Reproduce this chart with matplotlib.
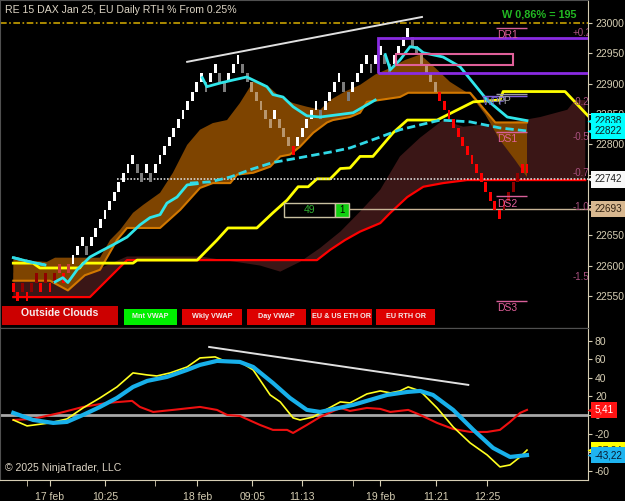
import matplotlib
matplotlib.use("Agg")
import matplotlib.pyplot as plt
import matplotlib.transforms as mtransforms
from matplotlib.patches import Rectangle

plt.rcParams['font.family'] = ['Liberation Sans', 'DejaVu Sans']
plt.rcParams['axes.unicode_minus'] = False

# ---------------- data ----------------
BOX = 15
BASE = 22542
brick_level = [1, 0, 1, 0, 1, 2, 1, 2, 1, 2, 3, 2, 3,
               4, 5, 6, 5, 6, 7, 8, 9, 10, 11, 12, 13, 14, 15, 14, 13, 14, 13, 14, 15, 16, 17, 18, 19, 20, 21, 22, 23, 24,
               23, 24, 25, 24, 23, 24, 25, 26, 25, 24, 23, 22, 21, 20, 19, 20, 19, 18, 17, 16,
               17, 18, 19, 20, 21, 20, 21, 22, 23, 24, 23, 22, 23, 24, 25, 26, 25, 26, 27, 26, 25, 26, 27, 28, 29, 28, 27, 26, 25, 24, 23,
               22, 21, 20, 19, 18, 17, 16, 15, 14, 13, 12, 11, 10, 9, 10, 11, 12, 13, 14, 14]
brick_kind = ("rrdrddrdrdlrl"
              "wwwgwwwwwwwwwwggwgwwwwwwwwwww"
              "gwwggwwwggtttttwtttr"
              "wwwwwgwwwwggwwwwgwwggwwwwggtttt"
              "rrrrrrrrrrrrrrddddrr")

# orange cloud (fast edge / stepped edge)
a1_x = [0, 7.3, 9.1, 18.9, 21.1, 23.3, 26.1, 28.3, 32, 34.8, 37.9, 40.7, 43.5, 46.6, 49.4, 52.3, 54.2, 56, 58.2, 61,
        64, 66.9, 69.1, 72.3, 75.6, 78.9, 82.2, 85.4, 88.7, 92, 95.2, 99.6, 102.9, 106.1, 109.4, 112]
a1_y = [22610, 22606, 22613, 22613, 22642, 22659, 22687, 22700, 22720, 22753, 22799, 22824, 22835, 22840, 22868, 22903,
        22901, 22893, 22878, 22868, 22862, 22857, 22873, 22887, 22898, 22915, 22926, 22939, 22948, 22926, 22903, 22882,
        22849, 22807, 22774, 22746]
a2_x = [0, 8, 11.9, 15.6, 18.9, 22.6, 24.8, 32, 36.4, 40.7, 43.5, 47.3, 48.8, 52.3, 56, 58.2, 60.3, 62.5, 65.4, 68.4,
        69.7, 73.4, 75.6, 77.1, 84.3, 86.1, 99.6, 105.1, 112]
a2_y = [22575, 22575, 22559, 22584, 22593, 22642, 22662, 22662, 22692, 22728, 22736, 22736, 22750, 22753, 22763, 22780,
        22783, 22796, 22819, 22836, 22840, 22845, 22852, 22870, 22878, 22885, 22885, 22836, 22836]

# dark red cloud
b1_x = [0, 16.7, 24.8, 40.7, 53.8, 58.2, 62.5, 66.9, 71.3, 75.6, 80, 84.3, 88.7, 93.7, 98.1, 101.8, 109, 114.9, 120.8,
        122.5, 124.7]
b1_y = [22588, 22588, 22615, 22615, 22600, 22590, 22606, 22629, 22656, 22689, 22725, 22780, 22811, 22840, 22829, 22832,
        22837, 22845, 22857, 22873, 22873]
b2_x = [0, 16.7, 24.8, 66.2, 69.1, 72.3, 75.6, 80, 82.2, 85.9, 89.4, 93.7, 98.9, 124.7]
b2_y = [22548, 22548, 22609, 22609, 22626, 22642, 22656, 22670, 22687, 22713, 22730, 22736, 22741, 22741]

yel_x = [0, 4.3, 5.8, 14.5, 15.2, 26.1, 27, 40.1, 44.4, 46.8, 53.1, 56.6, 59.7, 62.1, 64.3, 66.2, 69.1, 71.3, 73.4,
         75.6, 78.4, 82.8, 85.9, 92.4, 100.3, 106.1, 106.8, 120.3, 125.3]
yel_y = [22604, 22604, 22596, 22596, 22604, 22604, 22609, 22609, 22642, 22662, 22662, 22687, 22708, 22730, 22730, 22743,
         22743, 22760, 22761, 22780, 22780, 22819, 22840, 22840, 22870, 22873, 22887, 22887, 22847]

# day VWAP segments (solid cyan) and weekly VWAP (dashed cyan)
vw0_x = [0, 3.7, 6.9]
vw0_y = [22613, 22606, 22601]
vw1_x = [9.1, 10.8, 11.9, 13.9, 16.7, 18.9, 21.7, 24.8, 27.6, 29.8, 32, 33.5, 35.7, 37.9, 40.1]
vw1_y = [22573, 22580, 22572, 22593, 22614, 22623, 22634, 22647, 22667, 22679, 22684, 22703, 22713, 22733, 22735]
vw2_x = [41.2, 42.2, 45.1, 47.9, 50.9, 53.1, 55.3, 56.6, 58.8, 61, 64, 66.9, 74.1, 78.9]
vw2_y = [22910, 22895, 22901, 22906, 22911, 22903, 22895, 22882, 22878, 22862, 22847, 22845, 22852, 22873]
vw3_x = [81.1, 82.2, 84.3, 86.5, 88.1, 89.4, 93.7, 97.4, 100.3, 103.3, 107.7, 112]
vw3_y = [22948, 22923, 22939, 22961, 22959, 22951, 22944, 22928, 22901, 22873, 22845, 22839]
wvw_x = [38.5, 42.9, 47.3, 51.6, 56.6, 62.5, 69.7, 73.4, 80, 84.3, 93.1, 99.6, 106.1, 112]
wvw_y = [22736, 22738, 22746, 22758, 22770, 22778, 22788, 22794, 22812, 22824, 22840, 22837, 22827, 22822]

# oscillator panel
osc_yel_x = [0, 3, 8, 11.7, 15.2, 18.9, 22.6, 26.1, 29.2, 31.3, 34.2, 37.9, 40.7, 44, 46.6, 49.4, 52.3, 56, 58.2, 61,
             62.5, 65.4, 66.9, 71.3, 73.4, 77.1, 80, 82.2, 84.3, 86.1, 88.7, 92.4, 95.9, 99.6, 103.3, 106.1, 108.3,
             110.5, 112]
osc_yel_y = [-5.4, -11.8, -8.6, -4.3, 7.5, 18.3, 30.1, 45.2, 43, 41.9, 45.2, 51.6, 61.3, 62.4, 57, 57, 48.4, 21.5, 14,
             -3.2, -5.4, -2.2, 2.2, 14, 12.9, 22.6, 25.8, 23.7, 25.8, 30.1, 25.8, 7.5, -12.9, -30.1, -43, -55.9, -53.8,
             -45.2, -37.84]
osc_cyan_x = [0, 4.3, 8.7, 11.7, 15.2, 18.9, 22.6, 26.1, 29.2, 33.5, 37.9, 40.7, 44.4, 49.4, 52.3, 56.6, 60.3, 64,
              66.9, 74.1, 81.5, 85.9, 88.7, 91.5, 95.9, 100.3, 104.6, 108.3, 112]
osc_cyan_y = [2.2, -5.4, -8.6, -7.5, 0, 8.6, 18.3, 30.1, 36.6, 40.9, 48.4, 53.8, 58.1, 57, 51.6, 34.4, 18.3, 5.4, 3.2,
              10.8, 21.5, 24.7, 25.8, 21.5, 5.4, -16.1, -35.5, -45.2, -43.22]
osc_red_x = [0, 4.3, 10.2, 15.2, 20.4, 25.9, 27.6, 30.5, 34.8, 40.7, 44.4, 46.6, 49.4, 53.8, 56.6, 59.7, 61, 64, 66.9,
             71.3, 73.4, 77.1, 80, 82.2, 86.1, 88.7, 92.4, 95.9, 99.6, 103.3, 106.1, 108.3, 110.5, 112]
osc_red_y = [-5.4, -4.3, 2.2, 8.6, 12.9, 15.1, 8.6, 3.2, 5.4, 8.6, 5.4, 0, -1.1, -10.8, -16.1, -16.1, -19.4, -10.8,
             -2.2, 7.5, 4.3, 7.5, 6.5, 3.2, 5.4, 0, -8.6, -15.1, -18.3, -18.3, -16.1, -7.5, 2.2, 5.41]

xtick_pos = [8, 20, 40.1, 52.1, 63, 80, 92.2, 103.3]
xtick_lab = ['17 feb', '10:25', '18 feb', '09:05', '11:13', '19 feb', '11:21', '12:25']
xminor_pos = [3, 30.9, 74.1]

pct_lab = ['+0.2', '-0.2', '-0.5', '-0.7', '-1.0', '-1.5']
pct_price = [22984, 22870, 22812, 22753, 22697, 22581]

level_lab = ['DR1', 'DS1', 'DS2', 'DS3']
level_price = [22992, 22820, 22714, 22542]

buttons = ['Outside Clouds', 'Mnt VWAP', 'Wkly VWAP', 'Day VWAP', 'EU & US ETH OR', 'EU RTH OR']

# ---------------- styling ----------------
BG = 'black'
BEIGE = '#d6ceb4'
kind_color = {'w': '#ffffff', 'g': '#7c7c7c', 't': '#b8966e', 'r': '#ff0000', 'd': '#900000', 'l': '#c83a3a'}

fig = plt.figure(figsize=(6.25, 5.01), dpi=100, facecolor=BG)
ax1 = fig.add_axes([0, 1 - 328 / 501, 588 / 625, 328 / 501])
ax2 = fig.add_axes([0, 1 - 480 / 501, 588 / 625, 152 / 501])
XL = (-2.9, 125.3)
for ax in (ax1, ax2):
    ax.set_facecolor(BG)
    ax.set_xlim(*XL)
    ax.yaxis.tick_right()
    ax.tick_params(axis='y', colors=BEIGE, labelsize=7.5, length=3, pad=2)
    for s in ('left', 'top'):
        ax.spines[s].set_color('#505050')
    ax.spines['right'].set_color(BEIGE)
    ax.spines['bottom'].set_color(BEIGE)
ax1.set_ylim(22497, 23038)
ax2.set_ylim(-70, 93.5)
ax1.set_yticks(range(22550, 23001, 50))
ax2.set_yticks(range(-60, 81, 20))
ax1.set_xticks([])
ax1.spines['bottom'].set_color('#b8b8b0')

# clouds
ax1.fill(b1_x + b2_x[::-1], b1_y + b2_y[::-1], color='#3a1616', lw=0, zorder=1)
ax1.fill(a1_x + a2_x[::-1], a1_y + a2_y[::-1], color='#7e4400', lw=0, zorder=1.2)
ax1.plot(a2_x, a2_y, color='#d27800', lw=1.5, zorder=2)
ax1.plot(b2_x, b2_y, color='#ff0000', lw=1.6, zorder=2.1)
ax1.plot(yel_x, yel_y, color='#ffff00', lw=2, zorder=2.2)

# reference lines
ax1.axhline(23000, color='#c8a000', lw=1.2, ls=(0, (4, 1.5, 1, 1.5)), zorder=2)
ax1.hlines(22742, 22.6, XL[1], color='#d8d8d8', lw=1.2, ls=(0, (1, 1)), zorder=2.3)
ax1.hlines(22693, 59.3, XL[1], color='#c8b496', lw=1, zorder=2.3)

# bricks
xs = list(range(len(brick_level)))
bottoms = [BASE + BOX * l for l in brick_level]
cols = [kind_color[k] for k in brick_kind]
ax1.bar(xs, [BOX] * len(xs), bottom=bottoms, width=0.62, color=cols, lw=0, zorder=3)

# VWAPs
for vx, vy in ((vw0_x, vw0_y), (vw1_x, vw1_y), (vw2_x, vw2_y), (vw3_x, vw3_y)):
    ax1.plot(vx, vy, color='#30e6ea', lw=2, zorder=4, solid_joinstyle='round')
ax1.plot(wvw_x, wvw_y, color='#30d8e6', lw=2, ls=(0, (3, 1.5)), zorder=4)
ax1.plot(vw0_x, vw0_y, color='#30d8e6', lw=2, ls=(0, (3, 1.5)), zorder=4)

# drawings
ax1.plot([37.9, 89.1], [22936, 23010], color='#e0e0e0', lw=1.4, zorder=5)
ax1.add_patch(Rectangle((79.5, 22918), 60, 58, fill=False, ec='#8a2be2', lw=2, zorder=4.5))
ax1.add_patch(Rectangle((83.5, 22930), 25.5, 19, fill=False, ec='#e0609a', lw=1.5, zorder=4.5))

# level labels
for lab, p in zip(level_lab, level_price):
    ax1.hlines(p, 105.3, 112, color='#d8609a', lw=1, zorder=5)
    ax1.annotate(lab, (105.3, p), xytext=(0.5, -1.5), textcoords='offset points', ha='left', va='top',
                 color='#e0609a', fontsize=7.5, zorder=5)
ax1.hlines(22880, 102.2, 112, color='#8060d8', lw=1, zorder=5)
ax1.annotate('WPP', (102.2, 22880), xytext=(0.5, -1.2), textcoords='offset points', ha='left', va='top',
             color='#7a68d0', fontsize=7.5, zorder=5)
ax1.hlines(22883, 105.3, 112, color='#a0a0a0', lw=1, zorder=5)
ax1.annotate('PP', (105.3, 22883), xytext=(0.5, -1.2), textcoords='offset points', ha='left', va='top',
             color='#a8a8a8', fontsize=7.5, zorder=5)

for lab, p in zip(pct_lab, pct_price):
    ax1.text(121.9, p, lab, color='#a8507e', fontsize=7, ha='left', va='center', clip_on=True, zorder=5)

# 49 | 1 box
ax1.add_patch(Rectangle((59.0, 22680), 11.1, 23, fc='black', ec='#c8c0a0', lw=1, zorder=6))
ax1.add_patch(Rectangle((70.1, 22680), 3.1, 23, fc='#10d010', ec='#c8c0a0', lw=1, zorder=6))
ax1.text(64.5, 22691.5, '49', color='#30b030', fontsize=7.5, ha='center', va='center', zorder=7)
ax1.text(71.65, 22691.5, '1', color='black', fontsize=7, ha='center', va='center', zorder=7)

# title & status text
ax1.text(0.008, 0.969, 'RE 15 DAX Jan 25, EU Daily RTH % From 0.25%', transform=ax1.transAxes,
         color='#dcd4c4', fontsize=7.6, ha='left', va='center', zorder=8)
ax1.text(0.981, 0.957, 'W 0,86% = 195', transform=ax1.transAxes, color='#22b822', fontsize=7.8,
         fontweight='bold', ha='right', va='center', zorder=8)

# buttons
btn_px = [(2, 118), (124, 177), (182, 242), (247, 306), (311, 372), (376, 435)]
btn_fc = ['#cc0000', '#00ee00', '#dd0000', '#dd0000', '#dd0000', '#dd0000']
for (x0, x1), lab, fc in zip(btn_px, buttons, btn_fc):
    big = lab == 'Outside Clouds'
    ytop = 306 if big else 309
    ax1.add_patch(Rectangle((x0 / 588, (328 - 325) / 328), (x1 - x0) / 588, (325 - ytop) / 328,
                            transform=ax1.transAxes, fc=fc, ec='none', zorder=8))
    ax1.text((x0 + x1) / 2 / 588, (328 - (ytop + 7)) / 328, lab, transform=ax1.transAxes,
             color='#f4ecec', fontsize=7.6 if big else 5.2, fontweight='bold', ha='center', va='center', zorder=9)

# price tags
def tag(ax, y, text, fc, tc):
    tr = mtransforms.blended_transform_factory(ax.transAxes, ax.transData)
    ax.text(1.011, y, text, transform=tr, ha='left', va='center', fontsize=7.1, color=tc,
            bbox=dict(boxstyle='square,pad=0.32', fc=fc, ec='none'), clip_on=False, zorder=20)
    ax.plot([1.006], [y], marker='<', ms=6.5, color=fc, mec='none', transform=tr, clip_on=False, zorder=19)

tag(ax1, 22838, '22838', '#00ffff', '#102020')
tag(ax1, 22822, '22822', '#00ffff', '#102020')
tag(ax1, 22742, '22742', '#f8f8f8', '#202020')
tag(ax1, 22693, '22693', '#d8b890', '#302010')

# ---------------- oscillator panel ----------------
ax2.axhline(0, color='#a8a8a8', lw=2, zorder=1)
ax2.plot(osc_red_x, osc_red_y, color='#ee1010', lw=1.5, zorder=2)
ax2.plot(osc_yel_x, osc_yel_y, color='#ffff20', lw=1.2, zorder=3)
ax2.plot(osc_cyan_x, osc_cyan_y, color='#18b0ea', lw=3, zorder=4)
ax2.plot([42.7, 99.2], [73.1, 32.3], color='#e0e0e0', lw=1.4, zorder=5)
ax2.text(0.008, 0.079, '\u00a9 2025 NinjaTrader, LLC', transform=ax2.transAxes, color='#dcd4c4',
         fontsize=7.6, ha='left', va='center')
tag(ax2, 5.41, '5,41', '#ff1414', '#ffffff')
tag(ax2, -37.84, '-37,84', '#ffff00', '#202020')
tag(ax2, -43.22, '-43,22', '#1eb4f0', '#0a1a30')

ax2.set_xticks(xtick_pos)
ax2.set_xticklabels(xtick_lab)
ax2.set_xticks(xminor_pos, minor=True)
ax2.tick_params(axis='x', which='both', colors=BEIGE, labelsize=7.5, length=4, pad=5)

fig.savefig('out.png', dpi=100, facecolor=BG)
